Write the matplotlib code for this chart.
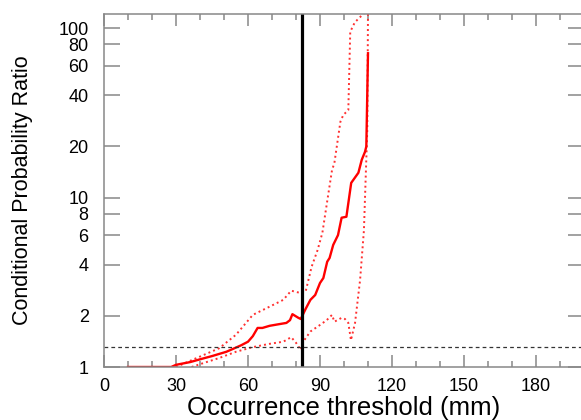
import matplotlib
matplotlib.use('Agg')
import matplotlib.pyplot as plt
from matplotlib.ticker import FixedLocator, MultipleLocator, NullLocator

plt.rcParams['font.family'] = ['Liberation Sans', 'DejaVu Sans']

# valores
x_main = [10, 28, 30, 36, 40, 45, 51, 57, 60, 62, 64, 66, 69, 73, 76, 77.5, 78.5, 81, 82,
          84, 86, 88, 90, 91.4, 93, 94, 95.5, 97.5, 99, 101, 103, 106, 107.4, 108.75, 109.3, 110]
y_main = [1.0, 1.0, 1.03, 1.07, 1.11, 1.16, 1.23, 1.34, 1.41, 1.52, 1.70, 1.70, 1.75, 1.79, 1.82,
          1.89, 2.05, 1.95, 1.92, 2.2, 2.49, 2.66, 3.13, 3.35, 4.18, 4.4, 5.25, 6.0, 7.6, 7.7,
          12.2, 14.0, 16.7, 18.6, 20.0, 71.0]

x_upper = [30, 38.6, 48, 55, 62, 69, 74.7, 78, 82, 84, 86.5, 89, 91, 93, 95, 96, 98.5,
           99.7, 101.8, 102.6, 104.5, 109]
y_upper = [1.0, 1.13, 1.29, 1.55, 2.03, 2.27, 2.49, 2.82, 2.73, 2.78, 3.9, 4.9, 6.2, 9.5,
           14.5, 16.0, 28.0, 30.7, 32.8, 95.0, 108.0, 125.0]

x_lower = [36.5, 41, 48, 55, 62, 69, 74.7, 78, 80, 82, 83, 86, 90, 92.8, 95, 96, 99,
           100.4, 101.8, 102.9, 104.6, 106.7, 108.3, 109.7, 110]
y_lower = [1.0, 1.05, 1.13, 1.23, 1.31, 1.37, 1.41, 1.50, 1.39, 1.26, 1.41, 1.62, 1.77,
           1.89, 2.03, 1.85, 1.95, 1.92, 1.82, 1.44, 1.82, 3.26, 6.4, 25.0, 125.0]

threshold = 82.4
ref_ratio = 1.32

y_ticks = [1, 2, 4, 6, 8, 10, 20, 40, 60, 80, 100]
x_ticks = [0, 30, 60, 90, 120, 150, 180]

W, H = 581, 420
fig = plt.figure(figsize=(W / 100, H / 100), dpi=100)
ax = fig.add_axes([104 / W, (H - 367) / H, (584 - 104) / W, (367 - 14) / H])

ax.plot(x_upper, y_upper, color='#ff3030', lw=1.4, ls=(0, (1, 1.6)))
ax.plot(x_lower, y_lower, color='#ff3030', lw=1.4, ls=(0, (1, 1.6)))
ax.plot(x_main, y_main, color='red', lw=1.7)
ax.axvline(threshold, color='black', lw=2.3)
ax.axhline(ref_ratio, color='#333333', lw=0.9, ls=(0, (3, 2.5)))

ax.set_yscale('log')
ax.set_xlim(0, 200)
ax.set_ylim(1, 121)

ax.yaxis.set_major_locator(FixedLocator(y_ticks))
ax.yaxis.set_minor_locator(NullLocator())
ax.set_yticklabels([str(v) for v in y_ticks])
ax.xaxis.set_major_locator(FixedLocator(x_ticks))
ax.xaxis.set_minor_locator(MultipleLocator(10))

ax.tick_params(which='both', direction='in', top=True, right=True, color='#888888', width=1.1,
               labelsize=13)
ax.tick_params(axis='x', which='major', length=8.6, pad=8)
ax.tick_params(axis='x', which='minor', length=4.3)
ax.tick_params(axis='y', which='major', length=11.5, pad=11)

for s in ax.spines.values():
    s.set_color('#888888')
    s.set_linewidth(1.1)

ax.set_xlabel('Occurrence threshold (mm)', fontsize=18.5, labelpad=1)
ax.set_ylabel('Conditional Probability Ratio', fontsize=15.5, labelpad=18)

fig.savefig('out.png', dpi=100)
